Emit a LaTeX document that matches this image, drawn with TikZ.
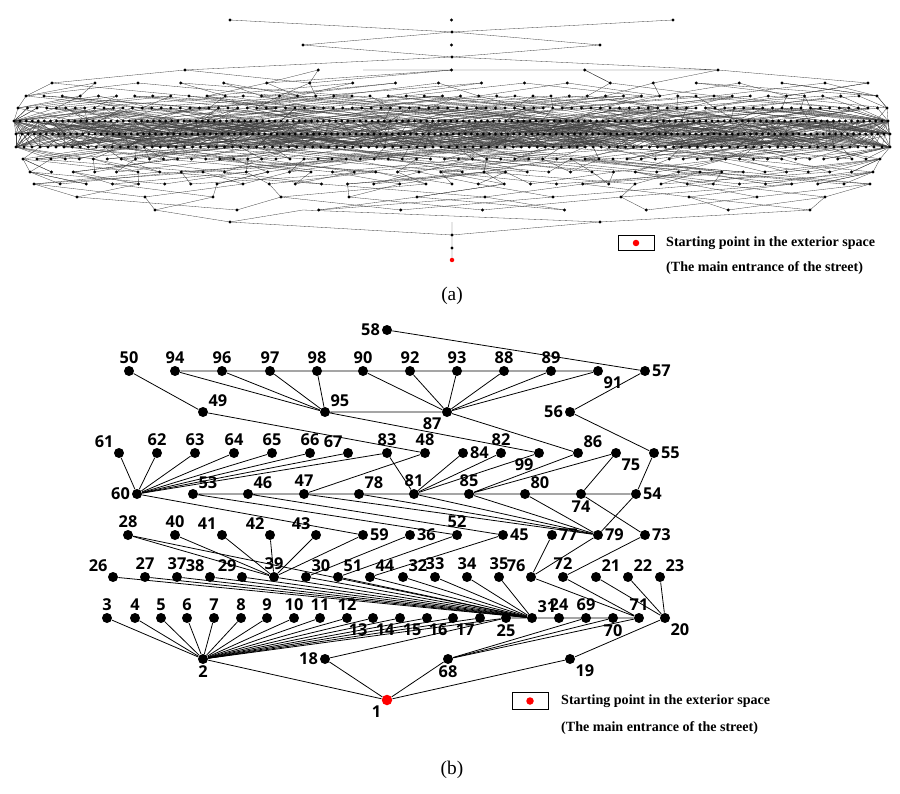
\documentclass[tikz,border=0pt]{standalone}
\usepackage{fontspec}
\setmainfont{Liberation Serif}
\newfontfamily\lblfont{Open Sans}
\begin{document}
\begin{tikzpicture}[x=0.02cm,y=-0.02cm,
  bn/.style={circle,fill=black,inner sep=0pt,minimum size=0.2cm},
  rn/.style={circle,fill=red,inner sep=0pt,minimum size=0.21cm},
  lb/.style={font=\lblfont\bfseries\fontsize{9.3}{10}\selectfont,inner sep=0.8pt},
  ed/.style={line width=0.45pt},
  ae/.style={line width=0.18pt,black!75},
  ad/.style={circle,fill=black,inner sep=0pt,minimum size=0.065cm},
  lg/.style={font=\bfseries\fontsize{8}{9}\selectfont,anchor=west}]
\useasboundingbox (0,0) rectangle (900,794);
% ---------- (a) ----------
\pgfmathsetseed{7}
\newcommand\arow[8]{%
 \foreach \i in {1,...,#4}{%
  \pgfmathsetmacro\xa{#2+(#3-#2)/max(#4-1,1)*(\i-1)}%
  \foreach \k in {1,2}{%
   \pgfmathsetmacro\xt{\xa+(rnd-0.5)*360}%
   \pgfmathsetmacro\j{max(0,min(#8-1,round((\xt-#6)/((#7-#6)/max(#8-1,1)))))}%
   \pgfmathsetmacro\xb{#6+(#7-#6)/max(#8-1,1)*\j}%
   \draw[ae] (\xa,#1)--(\xb,#5);}}}
\newcommand\drow[4]{\foreach \i in {1,...,#4}{\pgfmathsetmacro\xa{#2+(#3-#2)/max(#4-1,1)*(\i-1)}\node[ad] at (\xa,#1) {};}}
\arow{83}{52}{868}{20}{96}{26}{877}{48}
\arow{96}{26}{877}{48}{108}{18}{887}{92}
\arow{108}{18}{887}{92}{121}{14}{888}{145}
\arow{121}{14}{888}{145}{134}{16}{890}{145}
\arow{134}{16}{890}{145}{147}{16}{890}{110}
\arow{147}{16}{890}{110}{121}{14}{888}{145}
\arow{159}{23}{880}{62}{147}{16}{890}{110}
\arow{172}{30}{873}{40}{159}{23}{880}{62}
\arow{184}{34}{870}{33}{172}{30}{873}{40}
\arow{197}{77}{825}{12}{184}{34}{870}{33}
\arow{70}{185}{718}{5}{83}{52}{868}{20}
\arow{210}{155}{810}{9}{197}{77}{825}{12}
\draw[ae] (230,20)--(452,32)--(673,20) (303,45)--(452,32)--(600,45)--(452,57)--(303,45)
 (185,70)--(452,57)--(718,70) (363,70)--(718,70) (452,260)--(452,222)
 (452,235)--(230,222)--(155,210) (452,235)--(600,222)--(810,210) (230,222)--(303,210)--(600,222);
\drow{20}{230}{673}{3}\node[ad] at (452,32){};\drow{45}{303}{600}{3}\node[ad] at (452,57){};
\drow{70}{185}{718}{5}\drow{83}{52}{868}{20}\drow{96}{26}{877}{48}\drow{108}{18}{887}{92}
\drow{121}{14}{888}{145}\drow{134}{16}{890}{145}\drow{147}{16}{890}{110}\drow{159}{23}{880}{62}
\drow{172}{30}{873}{40}\drow{184}{34}{870}{33}\drow{197}{77}{825}{12}\drow{210}{155}{810}{9}
\node[ad] at (230,222){};\node[ad] at (600,222){};\node[ad] at (452,235){};\node[ad] at (452,248){};
\node[circle,fill=red,inner sep=0pt,minimum size=0.09cm] at (452,260){};
\node[draw,minimum width=0.72cm,minimum height=0.3cm,inner sep=0pt] (lga) at (636,243){};
\node[circle,fill=red,inner sep=0pt,minimum size=0.13cm] at (lga){};
\node[lg] at (660,243) {Starting point in the exterior space};
\node[lg] at (660,268) {(The main entrance of the street)};
\node[font=\fontsize{11}{13}\selectfont] at (452,296) {(a)};
% ---------- (b) ----------
\foreach \n/\x/\y/\p in {
58/387/330/left,50/129/371/above,94/175/371/above,96/222/371/above,97/270/371/above,98/317/371/above,
90/363/371/above,92/410/371/above,93/457/371/above,88/504/371/above,89/551/371/above,91/598/371/below right,57/645/371/right,
49/203/412/above right,95/325/412/above right,87/447/412/below left,56/570/412/left,
61/119/453/above left,62/157/453/above,63/195/453/above,64/234/453/above,65/272/453/above,66/310/453/above,67/348/453/above left,
83/387/453/above,48/425/453/above,84/463/453/right,82/501/453/above,99/539/453/below left,86/578/453/above right,75/616/453/below right,55/654/453/right,
60/137/494/left,53/193/494/above right,46/248/494/above right,47/304/494/above,78/359/494/above right,81/414/494/above,85/469/494/above,80/525/494/above right,74/581/494/below,54/636/494/right,
28/128/535/above,40/175/535/above,41/222/535/above left,42/270/535/above left,43/316/535/above left,59/363/535/right,36/410/535/right,52/457/535/above,45/503/535/right,77/552/535/right,79/598/535/right,73/645/535/right,
26/113/577/above left,27/145/577/above,37/177/577/above,38/210/577/above left,29/242/577/above left,39/274/577/above,30/306/577/above right,51/338/577/above right,44/370/577/above right,32/403/577/above right,33/435/577/above,34/467/577/above,35/499/577/above,76/531/577/above left,72/563/577/above,21/596/577/above right,22/628/577/above right,23/660/577/above right,
3/107/618/above,4/135/618/above,5/161/618/above,6/187/618/above,7/214/618/above,8/241/618/above,9/267/618/above,10/294/618/above,11/320/618/above,12/347/618/above,
13/373/618/below left,14/400/618/below left,15/427/618/below left,16/453/618/below left,17/480/618/below left,25/506/618/below,31/532/618/above right,24/559/618/above,69/586/618/above,70/613/618/below,71/639/618/above,20/665/618/below right,
2/203/659/below,18/325/659/left,68/448/659/below,19/570/659/below right}
 {\node[bn,label={[lb]\p:\n}] (n\n) at (\x,\y) {};}
\node[rn,label={[lb]below left:1}] (n1) at (387,700) {};
\draw[ed] (n58)--(n57) (n57)--(n56)--(n55)--(n54) (n94)--(n91) (n50)--(n49)--(n48)
 (n95)--(n87) (n95)--(n99) (n87)--(n86);
\foreach \a in {94,96,97,98} \draw[ed] (n\a)--(n95);
\foreach \a in {90,92,93,88,89,91} \draw[ed] (n\a)--(n87);
\foreach \a in {61,62,63,64,65,66,67,83,59} \draw[ed] (n60)--(n\a);
\draw[ed] (n53)--(n54) (n47)--(n48) (n83)--(n81) (n53)--(n52) (n46)--(n45)
 (n85)--(n86) (n85)--(n75)--(n74)--(n73)--(n72) (n54)--(n79)--(n76)--(n77);
\foreach \a in {84,82,99} \draw[ed] (n81)--(n\a);
\foreach \a in {47,78,81,85,80} \draw[ed] (n\a)--(n79);
\foreach \a in {28,40,41,42,43,59} \draw[ed] (n\a)--(n39);
\draw[ed] (n36)--(n30) (n52)--(n51) (n45)--(n44);
\foreach \a in {26,27,37,38,29,39,30,51,44,32,33,34,35,28} \draw[ed] (n\a)--(n31);
\draw[ed] (n76)--(n71) (n72)--(n71) (n25)--(n31)--(n71);
\foreach \a in {21,22,23,19} \draw[ed] (n\a)--(n20);
\foreach \a in {3,4,5,6,7,8,9,10,11,12,13,14,15,16,17,25} \draw[ed] (n2)--(n\a);
\foreach \a in {69,70,71} \draw[ed] (n68)--(n\a);
\draw[ed] (n18)--(n25) (n1)--(n2) (n1)--(n18) (n1)--(n68) (n1)--(n19);
\node[draw,minimum width=0.72cm,minimum height=0.34cm,inner sep=0pt] (lgb) at (530,701){};
\node[circle,fill=red,inner sep=0pt,minimum size=0.15cm] at (lgb){};
\node[lg] at (555,701) {Starting point in the exterior space};
\node[lg] at (555,728) {(The main entrance of the street)};
\node[font=\fontsize{11}{13}\selectfont] at (452,770) {(b)};
\end{tikzpicture}
\end{document}
